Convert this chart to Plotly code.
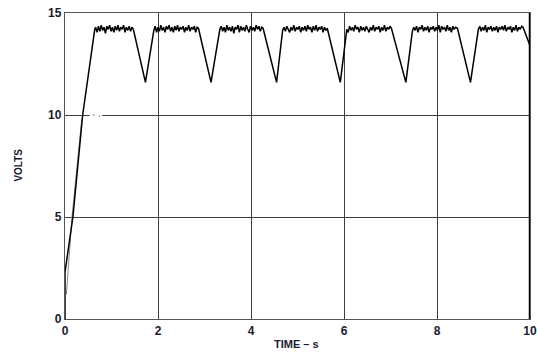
import plotly.graph_objects as go

# Rise from power-on
rise_t = [0.0, 0.0, 0.17, 0.38, 0.64]
rise_v = [0.0, 2.3, 5.0, 10.0, 14.2]
# faint second sweep of the rising edge
ghost_t = [0.03, 0.15, 0.36]
ghost_v = [1.2, 5.0, 9.8]

# Regulated plateaus (noisy)
p1_t = [0.66,0.69,0.72,0.75,0.78,0.81,0.84,0.87,0.90,0.93,0.96,0.99,1.02,1.05,1.08,1.11,1.14,1.17,1.20,1.23,1.26,1.29,1.32,1.35,1.38,1.41,1.44,1.47]
p1_v = [14.3,14.05,14.35,14.1,14.4,14.15,14.3,14.0,14.35,14.2,14.4,14.1,14.3,14.05,14.35,14.15,14.4,14.1,14.3,14.2,14.4,14.05,14.3,14.15,14.35,14.1,14.3,14.2]
p2_t = [1.91,1.94,1.97,2.00,2.03,2.06,2.09,2.12,2.15,2.18,2.21,2.24,2.27,2.30,2.33,2.36,2.39,2.42,2.45,2.48,2.51,2.54,2.57,2.60,2.63,2.66,2.69,2.72,2.75,2.78,2.81,2.84,2.87]
p2_v = [14.15,14.35,14.05,14.3,14.1,14.4,14.15,14.3,14.05,14.35,14.2,14.4,14.1,14.3,14.05,14.35,14.15,14.4,14.1,14.3,14.2,14.35,14.05,14.3,14.15,14.4,14.1,14.3,14.2,14.35,14.05,14.3,14.25]
p3_t = [3.33,3.36,3.39,3.42,3.45,3.48,3.51,3.54,3.57,3.60,3.63,3.66,3.69,3.72,3.75,3.78,3.81,3.84,3.87,3.90,3.93,3.96,3.99,4.02,4.05,4.08,4.11,4.14,4.17,4.20,4.23,4.26]
p3_v = [14.2,14.35,14.1,14.3,14.05,14.4,14.15,14.3,14.1,14.35,14.0,14.3,14.2,14.4,14.05,14.35,14.15,14.3,14.1,14.4,14.2,14.05,14.35,14.15,14.3,14.1,14.4,14.2,14.35,14.1,14.3,14.25]
p4_t = [4.68,4.71,4.74,4.77,4.80,4.83,4.86,4.89,4.92,4.95,4.98,5.01,5.04,5.07,5.10,5.13,5.16,5.19,5.22,5.25,5.28,5.31,5.34,5.37,5.40,5.43,5.46,5.49,5.52,5.55,5.58,5.61,5.64]
p4_v = [14.15,14.3,14.1,14.35,14.2,14.05,14.3,14.15,14.4,14.1,14.3,14.2,14.35,14.05,14.3,14.15,14.35,14.1,14.4,14.2,14.3,14.05,14.35,14.15,14.4,14.1,14.3,14.2,14.35,14.05,14.3,14.15,14.25]
p5_t = [6.06,6.09,6.12,6.15,6.18,6.21,6.24,6.27,6.30,6.33,6.36,6.39,6.42,6.45,6.48,6.51,6.54,6.57,6.60,6.63,6.66,6.69,6.72,6.75,6.78,6.81,6.84,6.87,6.90,6.93,6.96,6.99,7.02]
p5_v = [14.2,14.05,14.35,14.15,14.3,14.1,14.4,14.2,14.3,14.05,14.35,14.15,14.3,14.1,14.35,14.2,14.05,14.3,14.15,14.4,14.1,14.3,14.2,14.35,14.05,14.3,14.15,14.4,14.1,14.3,14.2,14.35,14.25]
p6_t = [7.47,7.50,7.53,7.56,7.59,7.62,7.65,7.68,7.71,7.74,7.77,7.80,7.83,7.86,7.89,7.92,7.95,7.98,8.01,8.04,8.07,8.10,8.13,8.16,8.19,8.22,8.25,8.28,8.31,8.34,8.37,8.40,8.44]
p6_v = [14.1,14.3,14.15,14.35,14.05,14.3,14.2,14.4,14.1,14.3,14.15,14.35,14.05,14.3,14.2,14.35,14.1,14.3,14.15,14.4,14.05,14.35,14.2,14.3,14.1,14.4,14.15,14.3,14.05,14.35,14.2,14.3,14.25]
p7_t = [8.89,8.92,8.95,8.98,9.01,9.04,9.07,9.10,9.13,9.16,9.19,9.22,9.25,9.28,9.31,9.34,9.37,9.40,9.43,9.46,9.49,9.52,9.55,9.58,9.61,9.64,9.67,9.70,9.73,9.76,9.79,9.82,9.85]
p7_v = [14.2,14.35,14.1,14.3,14.15,14.4,14.05,14.3,14.2,14.35,14.1,14.3,14.15,14.35,14.05,14.3,14.2,14.35,14.15,14.4,14.1,14.3,14.2,14.35,14.05,14.3,14.15,14.4,14.1,14.3,14.2,14.35,14.3]

# Dip minima between plateaus
dip_t = [1.73, 3.14, 4.55, 5.92, 7.33, 8.72]
dip_v = [11.6, 11.6, 11.6, 11.6, 11.6, 11.6]

end_t = [10.0]
end_v = [13.4]

x_ticks = [0, 2, 4, 6, 8, 10]
y_ticks = [0, 5, 10, 15]

plateaus = [(p1_t, p1_v), (p2_t, p2_v), (p3_t, p3_v), (p4_t, p4_v),
            (p5_t, p5_v), (p6_t, p6_v), (p7_t, p7_v)]

t = list(rise_t)
v = list(rise_v)
for i, (pt, pv) in enumerate(plateaus):
    for a, b in zip(pt, pv):
        t.append(a)
        v.append(b)
    if i < len(dip_t):
        t.append(dip_t[i])
        v.append(dip_v[i])
t += end_t
v += end_v

fig = go.Figure()
fig.add_trace(go.Scatter(x=ghost_t, y=ghost_v, mode="lines",
                         line=dict(color="#888", width=1),
                         showlegend=False, hoverinfo="skip"))
fig.add_trace(go.Scatter(x=t, y=v, mode="lines",
                         line=dict(color="black", width=1.5),
                         showlegend=False, hoverinfo="skip"))

fam = "Liberation Sans, Arial, sans-serif"
tickfont = dict(family=fam, size=12, color="#1b1b2f", weight="bold")

fig.update_layout(
    width=537, height=352,
    margin=dict(l=65, r=7, t=13, b=33),
    paper_bgcolor="white", plot_bgcolor="white",
    showlegend=False,
    xaxis=dict(range=[0, 10], tickvals=x_ticks, showgrid=True,
               gridcolor="#3c3c3c", gridwidth=1.2, zeroline=False,
               showline=True, mirror=True, linecolor="#555", linewidth=1.3,
               ticks="", tickfont=tickfont, ticklabeloverflow="allow",
               automargin=False),
    yaxis=dict(range=[0, 15], tickvals=y_ticks, showgrid=True,
               gridcolor="#3c3c3c", gridwidth=1.2, zeroline=False,
               showline=True, mirror=True, linecolor="#555", linewidth=1.3,
               ticks="", tickfont=tickfont, ticklabeloverflow="allow",
               automargin=False),
    annotations=[
        dict(text="TIME – s", xref="paper", yref="paper", x=0.497, y=-0.082,
             showarrow=False, xanchor="center", yanchor="middle",
             font=dict(family=fam, size=11, color="#1b1b2f", weight="bold")),
        dict(text="VOLTS", xref="paper", yref="paper", x=-0.1, y=0.503,
             textangle=-90, showarrow=False, xanchor="center", yanchor="middle",
             font=dict(family=fam, size=10, color="#1b1b2f", weight="bold")),
    ],
    shapes=[
        dict(type="line", xref="x", yref="y", x0=10, x1=10, y0=0, y1=15,
             line=dict(color="black", width=2.5)),
        # gap in the 10 V grid line, as in the original print
        dict(type="line", xref="x", yref="y", x0=0.53, x1=0.80, y0=10, y1=10,
             line=dict(color="white", width=3)),
        dict(type="line", xref="x", yref="y", x0=0.60, x1=0.64, y0=10, y1=10,
             line=dict(color="#777", width=1)),
        dict(type="line", xref="x", yref="y", x0=0.73, x1=0.75, y0=9.95, y1=9.95,
             line=dict(color="#777", width=1.5)),
    ],
)

# remove the default page margin so the figure fills the window exactly
fig.write_html("out.html", config={"displayModeBar": False},
               post_script="document.body.style.margin='0';"
                           "document.body.style.overflow='hidden';")
